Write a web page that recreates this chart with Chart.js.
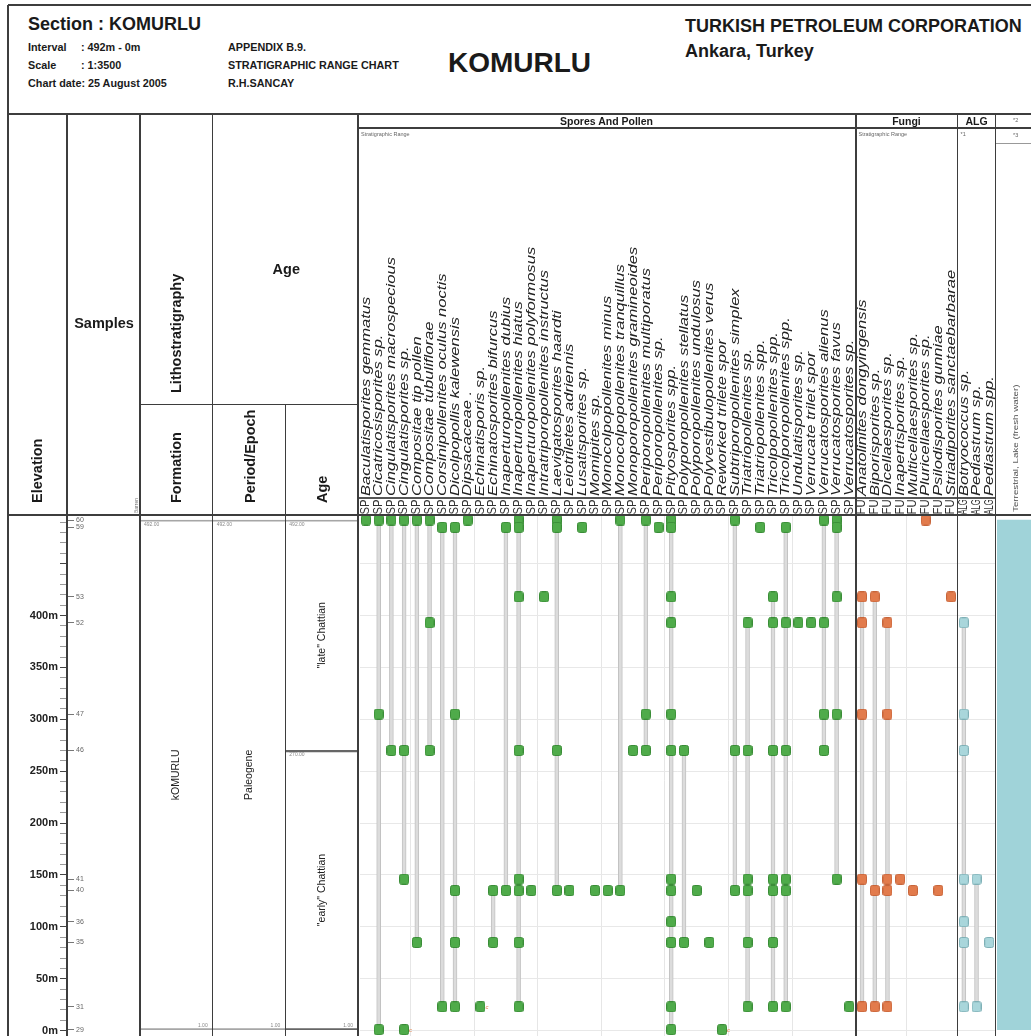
<!DOCTYPE html>
<html>
<head>
<meta charset="utf-8">
<title>KOMURLU – Stratigraphic Range Chart</title>
<script src="https://cdn.jsdelivr.net/npm/chart.js@4.4.1/dist/chart.umd.min.js"></script>
<style>
  html, body { margin: 0; padding: 0; background: #fff; overflow: hidden; }
  #page { position: relative; width: 1031px; height: 1036px; overflow: hidden;
          font-family: "Liberation Sans", Arial, sans-serif; color: #1a1a1a; }
  #page canvas { position: absolute; }
  .txt { position: absolute; white-space: nowrap; line-height: 1; }
  .line { position: absolute; }
</style>
</head>
<body>
<div id="page">
  <canvas id="elevChart"></canvas>
  <canvas id="stratChart"></canvas>
  <canvas id="rangeChart"></canvas>
  <canvas id="envChart"></canvas>
</div>
<script>
// ---------------- Section data ----------------
const sampleNumbers    = [60, 59, 53, 52, 47, 46, 41, 40, 36, 35, 31, 29];
const sampleElevations = [492, 485, 418, 393, 305, 270, 146, 135, 105, 85, 23, 1];
const elevationLabels  = [0, 50, 100, 150, 200, 250, 300, 350, 400];

const sporeTaxa = [
  'Baculatisporites gemmatus', 'Cicatricosisporites sp.', 'Cingulatisporites macrospecious',
  'Cingulatisporites sp.', 'Compositae tip pollen', 'Compositae tubuliflorae',
  'Corsinipollenites oculus noctis', 'Dicolpopollis kalewensis', 'Dipsacaceae .',
  'Echinatisporis sp.', 'Echinatosporites bifurcus', 'Inaperturopollenites dubius',
  'Inaperturopollenites hiatus', 'Inaperturopollenites polyformosus', 'Intratriporopollenites instructus',
  'Laevigatosporites haardti', 'Leiotriletes adriennis', 'Lusatisporites sp.', 'Momipites sp.',
  'Monocolpopollenites minus', 'Monocolpopollenites tranquillus', 'Monoporopollenites gramineoides',
  'Periporopollenites multiporatus', 'Periporopollenites sp.', 'Pityosporites spp.',
  'Polyporopollenites stellatus', 'Polyporopollenites undulosus', 'Polyvestibulopollenites verus',
  'Reworked trilete spor', 'Subtriporopollenites simplex', 'Triatriopollenites sp.',
  'Triatriopollenites spp.', 'Tricolpopollenites spp.', 'Tricolporopollenites spp.',
  'Undulatisporites sp.', 'Verrucate trilet spor', 'Verrucatosporites alienus',
  'Verrucatosporites favus', 'Verrucatosporites sp.'
];
// samples in which each spore / pollen taxon was recorded
const sporeSamples = [
  [60], [60, 47, 29], [60, 46], [60, 46, 41, 29], [60, 35], [60, 52, 46],
  [59, 31], [59, 47, 40, 35, 31], [60], [31], [40, 35], [59, 40],
  [60, 59, 53, 46, 41, 40, 35, 31], [40], [53], [60, 59, 46, 40], [40], [59], [40],
  [40], [60, 40], [46], [60, 47, 46], [59],
  [60, 59, 53, 52, 47, 46, 41, 40, 36, 35, 31, 29],
  [46, 35], [40], [35], [29], [60, 46, 40], [52, 46, 41, 40, 35, 31],
  [59], [53, 52, 46, 41, 40, 35, 31], [59, 52, 46, 41, 40, 31],
  [52], [52], [60, 52, 47, 46], [60, 59, 53, 47, 41], [31]
];

const fungiTaxa = [
  'Anatolinites dongyingensis', 'Biporisporites sp.', 'Dicellaesporites sp.', 'Inapertisporites sp.',
  'Multicellaesporites sp.', 'Pluricellaesporites sp.', 'Psilodisporites gunniae',
  'Striadiporites sanctaebarbarae'
];
const fungiSamples = [
  [53, 52, 47, 41, 31], [53, 40, 31], [52, 47, 41, 40, 31], [41], [40], [60], [40], [53]
];

const algaeTaxa = ['Botryococcus sp.', 'Pediastrum sp.', 'Pediastrum spp.'];
const algaeSamples = [[52, 47, 46, 41, 36, 35, 31], [41, 31], [35]];

// questionable records: plotted, but left out of the range lines
const flaggedTaxa    = ['Cingulatisporites sp.', 'Echinatisporis sp.', 'Reworked trilete spor'];
const flaggedSamples = [29, 31, 29];

const formationNames = ['kOMURLU'];
const formationTops  = [492];
const formationBases = [1];
const periodNames = ['Paleogene'];
const periodTops  = [492];
const periodBases = [1];
const ageNames = ['"late" Chattian', '"early" Chattian'];
const ageTops  = [492, 270];
const ageBases = [270, 1];
const environmentNames = ['Terrestrial, Lake (fresh water)'];
const environmentTops  = [492];
const environmentBases = [1];

// ---------------- Layout ----------------
const Y_MIN = -14, Y_MAX = 496;
const CANVAS_TOP = 100, CANVAS_H = 960;
const AREA_TOP = 515.9 - CANVAS_TOP;
const AREA_BOTTOM_PAD = CANVAS_H - (1045.2 - CANVAS_TOP);
const NAME_AXIS_H = 370, CODE_AXIS_H = 17.9;
const NAME_FONT = 13.5, CODE_FONT = 12, LINE_HEIGHT = 1.2;
// rotated header labels: stretch along the reading direction / longest allowed run
const TOP_LABEL_FIT = { x: { stretch: 1.23, maxLen: null }, xc: { stretch: 1, maxLen: 15 } };
const LINE = '#3d3d3d';
const FONT = '"Liberation Sans", Arial, sans-serif';

const page = document.getElementById('page');

function addText(str, x, cy, size, opt = {}) {
  const d = document.createElement('div');
  d.className = 'txt';
  d.textContent = str;
  d.style.fontSize = size + 'px';
  d.style.fontWeight = opt.bold ? 'bold' : 'normal';
  if (opt.italic) d.style.fontStyle = 'italic';
  d.style.color = opt.color || '#1a1a1a';
  d.style.left = x + 'px';
  d.style.top = (cy - size / 2) + 'px';
  if (opt.align === 'center') d.style.transform = 'translateX(-50%)';
  if (opt.align === 'right') d.style.transform = 'translateX(-100%)';
  page.appendChild(d);
}
// text read from bottom to top, starting at yBottom
function addVText(str, cx, yBottom, size, opt = {}) {
  const d = document.createElement('div');
  d.className = 'txt';
  d.textContent = str;
  d.style.fontSize = size + 'px';
  d.style.fontWeight = opt.bold ? 'bold' : 'normal';
  d.style.color = opt.color || '#1a1a1a';
  d.style.left = (cx - size / 2) + 'px';
  d.style.top = yBottom + 'px';
  d.style.transformOrigin = '0 0';
  d.style.transform = 'rotate(-90deg)' + (opt.stretch ? ' scaleX(' + opt.stretch + ')' : '');
  page.appendChild(d);
}
function hLine(x1, x2, y, w = 1.6, color = LINE) {
  const d = document.createElement('div');
  d.className = 'line';
  Object.assign(d.style, { left: x1 + 'px', top: (y - w / 2) + 'px', width: (x2 - x1) + 'px', height: w + 'px', background: color });
  page.appendChild(d);
}
function vLine(x, y1, y2, w = 1.6, color = LINE) {
  const d = document.createElement('div');
  d.className = 'line';
  Object.assign(d.style, { left: (x - w / 2) + 'px', top: y1 + 'px', width: w + 'px', height: (y2 - y1) + 'px', background: color });
  page.appendChild(d);
}
function placeCanvas(id, left, width) {
  const c = document.getElementById(id);
  c.width = width; c.height = CANVAS_H;
  c.style.left = left + 'px'; c.style.top = CANVAS_TOP + 'px';
  c.style.width = width + 'px'; c.style.height = CANVAS_H + 'px';
  return c;
}

// ---------------- Title block ----------------
addText('Section : KOMURLU', 28, 24, 18, { bold: true });
addText('Interval', 28, 47.5, 10.8, { bold: true });
addText(': 492m - 0m', 81, 47.5, 10.8, { bold: true });
addText('Scale', 28, 65.8, 10.8, { bold: true });
addText(': 1:3500', 81, 65.8, 10.8, { bold: true });
addText('Chart date: 25 August 2005', 28, 83.5, 10.8, { bold: true });
addText('APPENDIX B.9.', 228, 47.5, 10.8, { bold: true });
addText('STRATIGRAPHIC RANGE CHART', 228, 65.8, 10.8, { bold: true });
addText('R.H.SANCAY', 228, 83.5, 10.8, { bold: true });
addText('KOMURLU', 448, 63, 28, { bold: true });
addText('TURKISH PETROLEUM CORPORATION', 685, 26, 18, { bold: true });
addText('Ankara, Turkey', 685, 51, 18, { bold: true });

// ---------------- Column headers ----------------
addVText('Elevation', 37, 503, 14.5, { bold: true });
addText('Samples', 104, 323, 14.5, { bold: true, align: 'center' });
addVText('Barren', 136.5, 513, 5, { color: '#777' });
addVText('Lithostratigraphy', 176.7, 393, 14.5, { bold: true });
addText('Age', 286.3, 269, 14.5, { bold: true, align: 'center' });
addVText('Formation', 176.7, 503, 14.5, { bold: true });
addVText('Period/Epoch', 250.7, 503, 14.5, { bold: true });
addVText('Age', 322.7, 503, 14.5, { bold: true });
addText('Spores And Pollen', 606.5, 121.5, 10.5, { bold: true, align: 'center' });
addText('Fungi', 906.5, 121.5, 10.5, { bold: true, align: 'center' });
addText('ALG', 976.5, 121.5, 10.5, { bold: true, align: 'center' });
addText('Stratigraphic Range', 361, 134.5, 5.5, { color: '#666' });
addText('Stratigraphic Range', 858.5, 134.5, 5.5, { color: '#666' });
addText('*1', 960.5, 134.5, 5.5, { color: '#666' });
addText('*2', 1013, 121, 5.5, { color: '#666' });
addText('*3', 1013, 135.5, 5.5, { color: '#666' });
addVText(environmentNames[0], 1015, 512, 7, { color: '#555', stretch: 1.4 });

// ---------------- Frame ----------------
hLine(8, 1031, 5);
vLine(8, 5, 1036);
hLine(8, 1031, 114);
hLine(358, 1031, 128);
hLine(995.5, 1031, 143, 1, '#999');
hLine(140, 358, 404.5);
hLine(358, 995.5, 498, 1.2, '#555');
hLine(8, 1031, 515);
[67, 140, 212.5, 358, 856, 957.5, 995.5].forEach(x => vLine(x, 114, 1036));
vLine(285.5, 404.5, 1036);

// ---------------- Derived series ----------------
const elevOf = s => sampleElevations[sampleNumbers.indexOf(s)];
const allTaxa = [...sporeTaxa, ...fungiTaxa, ...algaeTaxa];
const allSamples = [...sporeSamples, ...fungiSamples, ...algaeSamples];
const groupCodes = [...sporeTaxa.map(() => 'SP'), ...fungiTaxa.map(() => 'FU'), ...algaeTaxa.map(() => 'ALG')];
const isFlagged = (taxon, s) => flaggedTaxa.some((t, k) => t === taxon && flaggedSamples[k] === s);

const ranges = allTaxa.map((t, i) => {
  const e = allSamples[i].filter(s => !isFlagged(t, s)).map(elevOf);
  return e.length > 1 ? [Math.min(...e), Math.max(...e)] : null;
});
const occurrencePoints = (taxa, samples) =>
  taxa.flatMap((t, i) => samples[i].map(s => ({ x: t, y: elevOf(s) })));

// every fifth column of a group gets a faint guide line
const guideColumns = [4, 9, 14, 19, 24, 29, 34, sporeTaxa.length + 4];

function markerImage(fill, stroke) {
  const c = document.createElement('canvas');
  c.width = 10; c.height = 11;
  const g = c.getContext('2d');
  const x = 0.5, y = 0.5, w = 9, h = 10, r = 2;
  g.beginPath();
  g.moveTo(x + r, y); g.lineTo(x + w - r, y); g.quadraticCurveTo(x + w, y, x + w, y + r);
  g.lineTo(x + w, y + h - r); g.quadraticCurveTo(x + w, y + h, x + w - r, y + h);
  g.lineTo(x + r, y + h); g.quadraticCurveTo(x, y + h, x, y + h - r);
  g.lineTo(x, y + r); g.quadraticCurveTo(x, y, x + r, y);
  g.closePath();
  g.fillStyle = fill; g.fill();
  g.lineWidth = 1; g.strokeStyle = stroke; g.stroke();
  return c;
}

const hiddenUi = { legend: { display: false }, tooltip: { enabled: false } };
const yValueScale = { type: 'linear', min: Y_MIN, max: Y_MAX, display: false };

// ---------------- Elevation ruler and sample ticks ----------------
new Chart(placeCanvas('elevChart', 0, 140), {
  type: 'scatter',
  data: { datasets: [] },
  options: {
    responsive: false, animation: false, events: [],
    layout: { padding: { left: 0, right: 0, top: AREA_TOP, bottom: AREA_BOTTOM_PAD } },
    plugins: hiddenUi,
    scales: {
      x: { type: 'linear', display: false, min: 0, max: 1 },
      y: {
        type: 'linear', position: 'left', min: Y_MIN, max: Y_MAX,
        afterBuildTicks: s => {
          const t = [];
          for (let v = 0; v <= 490; v += 10) t.push({ value: v });
          s.ticks = t;
        },
        afterFit: s => { s.width = 67; },
        border: { display: false },
        grid: {
          drawOnChartArea: false, drawTicks: true, tickLength: 7, tickWidth: 1,
          tickColor: c => (c.tick && c.tick.value % 50 === 0) ? '#444' : '#9a9a9a'
        },
        ticks: {
          autoSkip: false, padding: 2, color: '#222',
          font: { family: FONT, size: 11, weight: 'bold' },
          callback: v => elevationLabels.includes(v) ? v + 'm' : ''
        }
      },
      ys: {
        type: 'linear', position: 'right', min: Y_MIN, max: Y_MAX,
        afterBuildTicks: s => { s.ticks = sampleElevations.map(v => ({ value: v })); },
        afterFit: s => { s.width = 72; },
        border: { display: false },
        grid: { drawOnChartArea: false, drawTicks: true, tickLength: 6, tickColor: '#777' },
        ticks: {
          autoSkip: false, padding: 2, color: '#666',
          font: { family: FONT, size: 7 },
          callback: v => String(sampleNumbers[sampleElevations.indexOf(v)])
        }
      }
    }
  }
});

// ---------------- Formation / Period / Age columns ----------------
function unitDatasets(names, tops, bases, col, style) {
  return names.map((n, k) => ({
    label: n,
    data: [0, 1, 2].map(c => c === col ? [bases[k], tops[k]] : null),
    grouped: false, barPercentage: 1, categoryPercentage: 1,
    backgroundColor: 'rgba(0,0,0,0)', borderSkipped: false,
    ...style(k)
  }));
}
const lightEdge = () => ({ borderColor: '#a6a6a6', borderWidth: { top: 1, bottom: 1, left: 0, right: 0 } });
const sectionBase = Math.min(...formationBases, ...periodBases, ...ageBases);

const unitLabels = {
  id: 'unitLabels',
  afterDatasetsDraw(chart) {
    const ctx = chart.ctx;
    chart.data.datasets.forEach((ds, di) => {
      chart.getDatasetMeta(di).data.forEach((bar, j) => {
        const raw = ds.data[j];
        if (!raw) return;
        const top = Math.min(bar.y, bar.base), bottom = Math.max(bar.y, bar.base);
        const left = bar.x - bar.width / 2, right = bar.x + bar.width / 2;
        ctx.save();
        ctx.translate(bar.x, (top + bottom) / 2);
        ctx.rotate(-Math.PI / 2);
        ctx.font = '10.5px ' + FONT;
        ctx.fillStyle = '#222';
        ctx.textAlign = 'center'; ctx.textBaseline = 'middle';
        ctx.fillText(ds.label, 0, 0);
        ctx.restore();
        ctx.save();
        ctx.font = '5px ' + FONT;
        ctx.fillStyle = '#888';
        ctx.textAlign = 'left'; ctx.textBaseline = 'top';
        ctx.fillText(raw[1].toFixed(2), left + 4, top + 2);
        if (raw[0] === sectionBase) {
          ctx.textAlign = 'right'; ctx.textBaseline = 'bottom';
          ctx.fillText(raw[0].toFixed(2), right - 5, bottom - 2);
        }
        ctx.restore();
      });
    });
  }
};

new Chart(placeCanvas('stratChart', 140, 218), {
  type: 'bar',
  data: {
    labels: ['Formation', 'Period/Epoch', 'Age'],
    datasets: [
      ...unitDatasets(formationNames, formationTops, formationBases, 0, lightEdge),
      ...unitDatasets(periodNames, periodTops, periodBases, 1, lightEdge),
      ...unitDatasets(ageNames, ageTops, ageBases, 2, k => k === 0
        ? { borderColor: '#a6a6a6', borderWidth: { top: 1, bottom: 0, left: 0, right: 0 } }
        : { borderColor: '#666', borderWidth: { top: 1.5, bottom: 1, left: 0, right: 0 } })
    ]
  },
  options: {
    responsive: false, animation: false, events: [],
    layout: { padding: { left: 0, right: 0, top: AREA_TOP, bottom: AREA_BOTTOM_PAD } },
    plugins: hiddenUi,
    scales: { x: { type: 'category', display: false, offset: true }, y: yValueScale }
  },
  plugins: [unitLabels]
});

// ---------------- Range chart ----------------
// fits the rotated top-axis labels: stretch along the reading direction, cap the run length
const fitTopLabels = {
  id: 'fitTopLabels',
  afterLayout(chart) {
    Object.keys(TOP_LABEL_FIT).forEach(id => {
      const sc = chart.scales[id];
      if (!sc || sc._fitWrapped) return;
      sc._fitWrapped = true;
      const fit = TOP_LABEL_FIT[id];
      const original = sc.drawLabels;
      sc.drawLabels = function (area) {
        const ctx = this.ctx;
        const y0 = this.bottom - this.options.ticks.padding;
        const fillText = ctx.fillText;
        ctx.save();
        ctx.translate(0, y0); ctx.scale(1, fit.stretch); ctx.translate(0, -y0);
        if (fit.maxLen) {
          ctx.fillText = function (t, x, y) { return fillText.call(this, t, x, y, fit.maxLen); };
        }
        original.call(this, area);
        ctx.fillText = fillText;
        delete ctx.fillText;
        ctx.restore();
      };
    });
  }
};

const flaggedMarks = {
  id: 'flaggedMarks',
  afterDatasetsDraw(chart) {
    const ctx = chart.ctx, xs = chart.scales.x, ys = chart.scales.y;
    ctx.save();
    ctx.font = 'italic 6px ' + FONT;
    ctx.fillStyle = '#e0783f';
    ctx.textAlign = 'left'; ctx.textBaseline = 'middle';
    flaggedTaxa.forEach((t, k) => {
      const px = xs.getPixelForValue(allTaxa.indexOf(t));
      const py = ys.getPixelForValue(elevOf(flaggedSamples[k]));
      ctx.fillText('c', px + 5, py + 1);
    });
    ctx.restore();
  }
};

const sporeMarker = markerImage('#4fab4a', '#3a8d37');
const fungiMarker = markerImage('#e27b4c', '#c7653a');
const algaeMarker = markerImage('#a9d6db', '#7fb0b6');
const markerStyle = img => ({ pointStyle: img, pointRadius: 5, clip: false, order: 1 });

new Chart(placeCanvas('rangeChart', 300, 731), {
  type: 'bar',
  data: {
    labels: allTaxa,
    datasets: [
      {
        type: 'bar', label: 'Stratigraphic range', data: ranges, order: 2,
        barThickness: 4, backgroundColor: '#dcdcdc', borderColor: '#c2c2c2',
        borderWidth: 1, borderSkipped: false
      },
      { type: 'scatter', label: 'Spores and pollen', data: occurrencePoints(sporeTaxa, sporeSamples), ...markerStyle(sporeMarker) },
      { type: 'scatter', label: 'Fungi', data: occurrencePoints(fungiTaxa, fungiSamples), ...markerStyle(fungiMarker) },
      { type: 'scatter', label: 'Algae', data: occurrencePoints(algaeTaxa, algaeSamples), ...markerStyle(algaeMarker) }
    ]
  },
  options: {
    responsive: false, animation: false, events: [],
    layout: { padding: { left: 59.6, right: 35.4, top: AREA_TOP - NAME_AXIS_H - CODE_AXIS_H, bottom: AREA_BOTTOM_PAD } },
    plugins: hiddenUi,
    scales: {
      x: {
        type: 'category', position: 'top', weight: 1, offset: true,
        afterFit: s => { s.height = NAME_AXIS_H; },
        border: { display: false },
        grid: { display: false, drawTicks: false },
        ticks: {
          autoSkip: false, minRotation: 90, maxRotation: 90, padding: 2, color: '#222',
          labelOffset: NAME_FONT * LINE_HEIGHT,
          font: { family: FONT, size: NAME_FONT, style: 'italic', lineHeight: LINE_HEIGHT }
        }
      },
      xc: {
        type: 'category', position: 'top', weight: 0, offset: true, labels: groupCodes,
        afterFit: s => { s.height = CODE_AXIS_H; },
        border: { display: false },
        grid: {
          display: true, offset: true, drawOnChartArea: true, drawTicks: false, lineWidth: 1,
          color: c => guideColumns.includes(c.index) ? '#e6e6e6' : 'rgba(0,0,0,0)'
        },
        ticks: {
          autoSkip: false, minRotation: 90, maxRotation: 90, padding: 1.5, color: '#333',
          labelOffset: CODE_FONT * LINE_HEIGHT,
          font: { family: FONT, size: CODE_FONT, lineHeight: LINE_HEIGHT }
        }
      },
      y: {
        type: 'linear', position: 'left', min: Y_MIN, max: Y_MAX,
        afterBuildTicks: s => { s.ticks = [0, 50, 100, 150, 200, 250, 300, 350, 400, 450].map(v => ({ value: v })); },
        afterFit: s => { s.width = 0; },
        border: { display: false },
        grid: { drawTicks: false, color: '#e8e8e8', lineWidth: 1 },
        ticks: { display: false }
      }
    }
  },
  plugins: [fitTopLabels, flaggedMarks]
});

// ---------------- Environment column ----------------
new Chart(placeCanvas('envChart', 997, 34), {
  type: 'bar',
  data: {
    labels: environmentNames,
    datasets: [{
      label: 'Environment',
      data: environmentNames.map((_, k) => [environmentBases[k], environmentTops[k]]),
      barPercentage: 1, categoryPercentage: 1, backgroundColor: '#a0d3d9', borderWidth: 0
    }]
  },
  options: {
    responsive: false, animation: false, events: [],
    layout: { padding: { left: 0, right: 0, top: AREA_TOP, bottom: AREA_BOTTOM_PAD } },
    plugins: hiddenUi,
    scales: { x: { type: 'category', display: false, offset: true }, y: yValueScale }
  }
});
</script>
</body>
</html>
